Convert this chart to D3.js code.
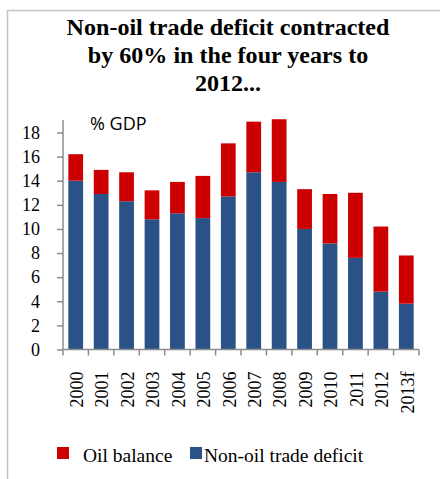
<!DOCTYPE html>
<html>
<head>
<meta charset="utf-8">
<script src="https://cdn.jsdelivr.net/npm/d3@7"></script>
<style>
  html, body { margin: 0; padding: 0; background: #fff; }
  svg { display: block; }
</style>
</head>
<body>
<svg id="chart" width="440" height="479"></svg>
<script>
// Trade deficit components, % of GDP
const years = ["2000","2001","2002","2003","2004","2005","2006","2007","2008","2009","2010","2011","2012","2013f"];
const nonOilDeficit = [14.0, 12.9, 12.3, 10.8, 11.3, 10.9, 12.7, 14.7, 13.9, 10.0, 8.8, 7.6, 4.8, 3.8];
const oilBalance    = [2.2, 2.0, 2.4, 2.4, 2.6, 3.5, 4.4, 4.2, 5.2, 3.3, 4.1, 5.4, 5.4, 4.0];
const yTicks = [0, 2, 4, 6, 8, 10, 12, 14, 16, 18];
const seriesNames = ["Oil balance", "Non-oil trade deficit"];
const titleLines = ["Non-oil trade deficit contracted", "by 60% in the four years to", "2012..."];

const colors = { "Non-oil trade deficit": "#2a5287", "Oil balance": "#cc0000" };
const serif = "'Liberation Serif', 'Times New Roman', serif";

const svg = d3.select("#chart");
const plot = { left: 63, right: 419, top: 120, bottom: 349.5 };

// outer frame
svg.append("rect")
  .attr("x", 7.5).attr("y", 10.5)
  .attr("width", 440).attr("height", 480)
  .attr("fill", "none").attr("stroke", "#c4c4c4").attr("stroke-width", 1.5);

// title, slightly widened
svg.append("g").selectAll("text").data(titleLines).join("text")
  .attr("transform", (d, i) => `translate(228,${35 + i * 28}) scale(1.07,1)`)
  .attr("text-anchor", "middle")
  .style("font-family", serif).style("font-weight", "bold").style("font-size", "22.5px")
  .text(d => d);

const x = d3.scaleBand().domain(years).range([plot.left, plot.right]).paddingInner(0.42).paddingOuter(0.21);
const xAxisScale = d3.scaleBand().domain(years).range([plot.left, plot.right]);
const y = d3.scaleLinear().domain([0, 18]).range([plot.bottom, 132.5]);

// stacked bars
const rows = years.map((yr, i) => ({ year: yr, "Non-oil trade deficit": nonOilDeficit[i], "Oil balance": oilBalance[i] }));
const stack = d3.stack().keys(["Non-oil trade deficit", "Oil balance"]);
const layers = stack(rows);

svg.append("g").selectAll("g").data(layers).join("g")
  .attr("fill", d => colors[d.key])
  .selectAll("rect").data(d => d).join("rect")
  .attr("x", d => x(d.data.year))
  .attr("width", x.bandwidth())
  .attr("y", d => y(d[1]))
  .attr("height", d => y(d[0]) - y(d[1]));

// y axis
const yAxis = svg.append("g").attr("transform", `translate(${plot.left},0)`)
  .call(d3.axisLeft(y).tickValues(yTicks).tickSize(6).tickPadding(17));
yAxis.select(".domain").remove();
yAxis.append("line").attr("x1", 0).attr("x2", 0).attr("y1", plot.top).attr("y2", plot.bottom)
  .attr("stroke", "#8c8c8c").attr("stroke-width", 1.5);
yAxis.selectAll(".tick line").attr("stroke", "#8c8c8c").attr("stroke-width", 1.5);
yAxis.selectAll(".tick text").style("font-family", serif).style("font-size", "18px").attr("fill", "#000");

// x axis with ticks between categories
const xAxis = svg.append("g").attr("transform", `translate(0,${plot.bottom})`);
xAxis.append("line").attr("x1", plot.left).attr("x2", plot.right)
  .attr("stroke", "#8c8c8c").attr("stroke-width", 1.5);
const boundaries = years.map(d => xAxisScale(d)).concat([plot.right]);
xAxis.selectAll("line.tk").data(boundaries).join("line").attr("class", "tk")
  .attr("x1", d => d).attr("x2", d => d).attr("y1", 0).attr("y2", 6)
  .attr("stroke", "#8c8c8c").attr("stroke-width", 1.5);
xAxis.selectAll("text").data(years).join("text")
  .attr("transform", d => `translate(${xAxisScale(d) + xAxisScale.bandwidth() / 2 + 1},22) rotate(-90)`)
  .attr("text-anchor", "end").attr("dy", "0.35em")
  .style("font-family", serif).style("font-size", "18px")
  .text(d => d);

// unit label
svg.append("text").attr("x", 90).attr("y", 130)
  .style("font-family", "'Open Sans', sans-serif").style("font-size", "18px")
  .text("% GDP");

// legend
const legendItems = [
  { name: seriesNames[0], sx: 57, tx: 83 },
  { name: seriesNames[1], sx: 190, tx: 204 }
];
const lg = svg.append("g").selectAll("g").data(legendItems).join("g");
lg.append("rect").attr("x", d => d.sx).attr("y", 447).attr("width", 12).attr("height", 12)
  .attr("fill", d => colors[d.name]);
lg.append("text").attr("x", d => d.tx).attr("y", 461.5)
  .style("font-family", serif).style("font-size", "19.5px")
  .text(d => d.name);
</script>
</body>
</html>
